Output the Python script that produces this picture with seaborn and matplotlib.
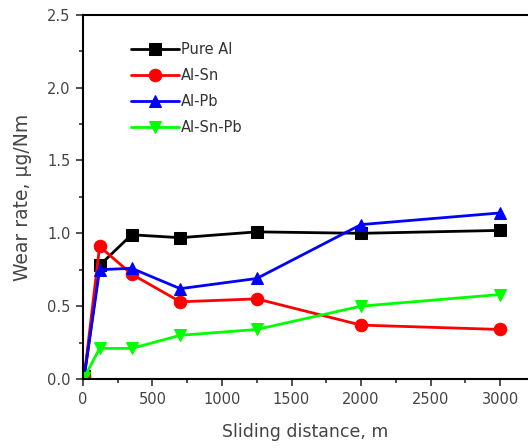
import matplotlib
matplotlib.use("Agg")
import matplotlib.pyplot as plt
import seaborn as sns
import pandas as pd
from matplotlib.ticker import MultipleLocator

sns.set_theme(style="ticks")
plt.rcParams['font.family'] = ['DejaVu Sans']

distance = [10, 120, 350, 700, 1250, 2000, 3000]
pure_al = [0.02, 0.78, 0.99, 0.97, 1.01, 1.00, 1.02]
al_sn = [0.02, 0.91, 0.72, 0.53, 0.55, 0.37, 0.34]
al_pb = [0.02, 0.75, 0.76, 0.62, 0.69, 1.06, 1.14]
al_sn_pb = [0.01, 0.21, 0.21, 0.30, 0.34, 0.50, 0.58]

series = [("Pure Al", pure_al, "black", "s"),
          ("Al-Sn", al_sn, "#ff0000", "o"),
          ("Al-Pb", al_pb, "#0000ff", "^"),
          ("Al-Sn-Pb", al_sn_pb, "#00ff00", "v")]

fig = plt.figure(figsize=(5.28, 4.48), dpi=100)
ax = fig.add_axes([0.157, 0.154, 0.843, 0.813])

for name, vals, col, mk in series:
    df = pd.DataFrame({"x": distance, "y": vals})
    sns.lineplot(data=df, x="x", y="y", ax=ax, color=col, marker=mk,
                 markersize=9, markeredgecolor=col, linewidth=2, label=name)

ax.set_xlim(0, 3200)
ax.set_ylim(0, 2.5)
ax.xaxis.set_minor_locator(MultipleLocator(250))
ax.yaxis.set_minor_locator(MultipleLocator(0.25))
ax.set_xticks([0, 500, 1000, 1500, 2000, 2500, 3000])
ax.set_xticklabels(["0", "500", "1000", "1500", "2000", "2500", "3000"])
ax.set_yticks([0, 0.5, 1.0, 1.5, 2.0, 2.5])
ax.set_yticklabels(["0.0", "0.5", "1.0", "1.5", "2.0", "2.5"])
ax.tick_params(which="major", direction="out", length=5, width=1.2, colors="#333333",
               labelsize=10.5, labelcolor="#444444", pad=4)
ax.tick_params(which="minor", direction="out", length=3, width=1.2, colors="#333333")
for s in ["left", "bottom", "top"]:
    ax.spines[s].set_linewidth(1.5)
    ax.spines[s].set_color("black")
ax.spines["right"].set_visible(False)

ax.set_xlabel("Sliding distance, m", fontsize=12.5, color="#444444", labelpad=12)
ax.set_ylabel("Wear rate, \u00b5g/Nm", fontsize=13.5, color="#444444", labelpad=11)

leg = ax.legend(loc="upper left", bbox_to_anchor=(0.095, 0.94), frameon=False,
                fontsize=10.5, handlelength=3.3, handletextpad=0.15, labelspacing=0.75,
                borderaxespad=0)
for t in leg.get_texts():
    t.set_color("#333333")

fig.savefig("out.png", dpi=100)
